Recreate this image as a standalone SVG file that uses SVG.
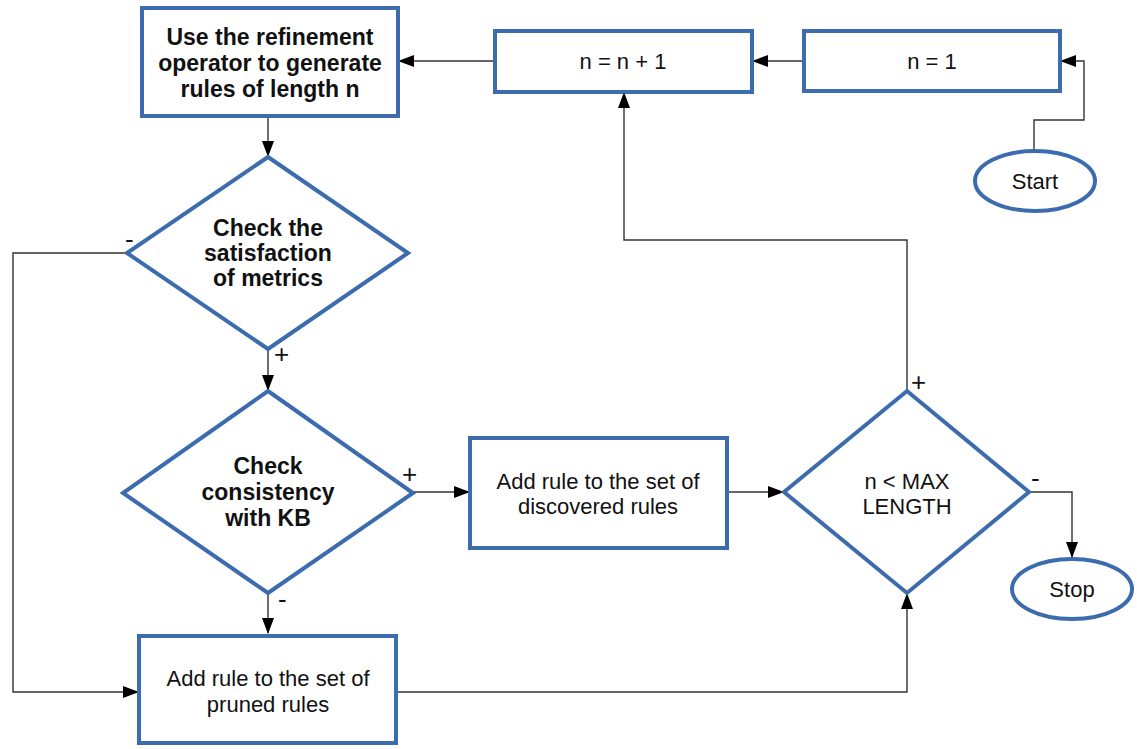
<svg xmlns="http://www.w3.org/2000/svg" width="1137" height="749" viewBox="0 0 1137 749">
<style>
.node{fill:#fff;stroke:#3c6cae;stroke-width:4}
.t{font-family:"Liberation Sans",Arial,sans-serif;font-size:22px;fill:#111;text-anchor:middle}
.b{font-weight:bold;font-size:23px}
.c{fill:none;stroke:#333;stroke-width:1.4}
.lbl{font-family:"Liberation Sans",Arial,sans-serif;font-size:26px;fill:#111}
</style>
<defs>
<marker id="ar" markerWidth="16" markerHeight="12" refX="15" refY="6" orient="auto" markerUnits="userSpaceOnUse">
<path d="M0,0 L16,6 L0,12 z" fill="#000"/>
</marker>
</defs>
<rect width="1137" height="749" fill="#fff"/>
<g id="connectors">
<path class="c" d="M494,61 L399,61" marker-end="url(#ar)"/>
<path class="c" d="M803,61 L753,61" marker-end="url(#ar)"/>
<path class="c" d="M1034,150 L1034,120 L1084,120 L1084,61 L1061,61" marker-end="url(#ar)"/>
<path class="c" d="M268,116 L268,156" marker-end="url(#ar)"/>
<path class="c" d="M268,349 L268,390" marker-end="url(#ar)"/>
<path class="c" d="M127,253 L13,253 L13,692 L138,692" marker-end="url(#ar)"/>
<path class="c" d="M413,492 L469,492" marker-end="url(#ar)"/>
<path class="c" d="M268,593 L268,633" marker-end="url(#ar)"/>
<path class="c" d="M727,492 L783,492" marker-end="url(#ar)"/>
<path class="c" d="M396,692 L907,692 L907,594" marker-end="url(#ar)"/>
<path class="c" d="M907,391 L907,240 L624,240 L624,93" marker-end="url(#ar)"/>
<path class="c" d="M1029,492 L1072,492 L1072,557" marker-end="url(#ar)"/>
<text class="lbl" x="125" y="248">-</text>
<text class="lbl" x="274" y="363">+</text>
<text class="lbl" x="402" y="483">+</text>
<text class="lbl" x="278" y="608">-</text>
<text class="lbl" x="911" y="391">+</text>
<text class="lbl" x="1031" y="487">-</text>
</g>
<g id="refine">
<rect class="node" x="142" y="8" width="256" height="108"/>
<text class="t b" x="270" y="45">Use the refinement</text>
<text class="t b" x="270" y="71">operator to generate</text>
<text class="t b" x="270" y="97">rules of length n</text>
</g>
<g id="inc">
<rect class="node" x="495" y="31" width="257" height="61"/>
<text class="t" x="623" y="69">n = n + 1</text>
</g>
<g id="init">
<rect class="node" x="804" y="31" width="256" height="60"/>
<text class="t" x="932" y="69">n = 1</text>
</g>
<g id="start">
<ellipse class="node" cx="1035" cy="181" rx="60" ry="30" stroke-width="3.5"/>
<text class="t" x="1035" y="189">Start</text>
</g>
<g id="metrics">
<polygon class="node" points="268,157 408,253 268,349 127,253"/>
<text class="t b" x="268" y="236">Check the</text>
<text class="t b" x="268" y="261">satisfaction</text>
<text class="t b" x="268" y="286">of metrics</text>
</g>
<g id="consistency">
<polygon class="node" points="268,391 413,493 268,593 123,493"/>
<text class="t b" x="268" y="474">Check</text>
<text class="t b" x="268" y="500">consistency</text>
<text class="t b" x="268" y="526">with KB</text>
</g>
<g id="discovered">
<rect class="node" x="470" y="438" width="257" height="110"/>
<text class="t" x="598" y="489">Add rule to the set of</text>
<text class="t" x="598" y="514">discovered rules</text>
</g>
<g id="maxlen">
<polygon class="node" points="907,391 1029,492 907,593 784,492"/>
<text class="t" x="907" y="489">n &lt; MAX</text>
<text class="t" x="907" y="514">LENGTH</text>
</g>
<g id="stop">
<ellipse class="node" cx="1072" cy="589" rx="60" ry="30" stroke-width="3.5"/>
<text class="t" x="1072" y="597">Stop</text>
</g>
<g id="pruned">
<rect class="node" x="139" y="636" width="257" height="107"/>
<text class="t" x="268" y="686">Add rule to the set of</text>
<text class="t" x="268" y="712">pruned rules</text>
</g>
</svg>
